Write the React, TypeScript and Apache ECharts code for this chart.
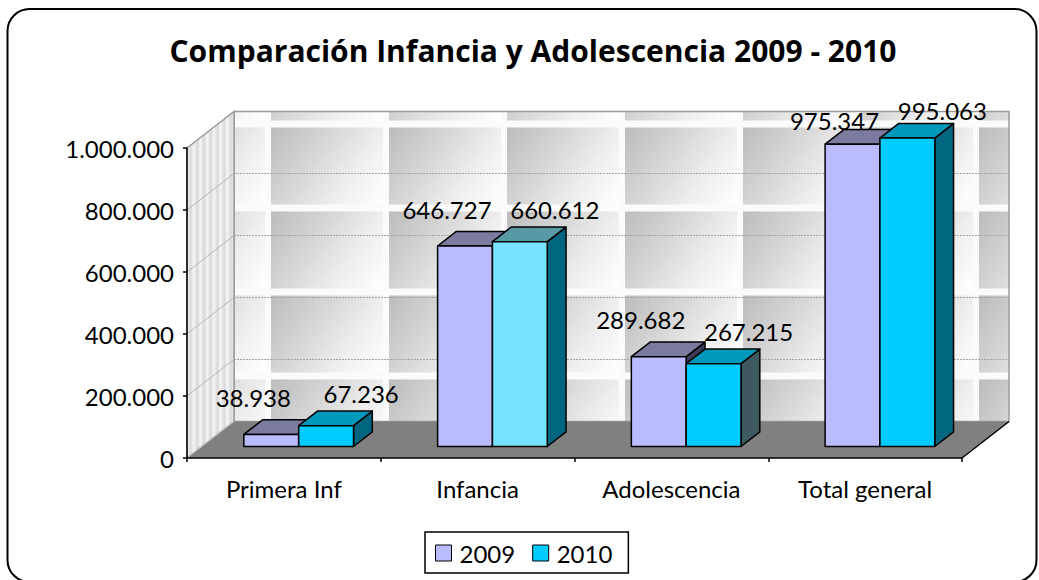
import React, { useEffect, useRef } from "react";
import * as echarts from "echarts";

const categories = ["Primera Inf", "Infancia", "Adolescencia", "Total general"];
const years = ["2009", "2010"];
const values2009 = [38938, 646727, 289682, 975347];
const values2010 = [67236, 660612, 267215, 995063];
const yMin = 0;
const yMax = 1000000;
const yStep = 200000;

const FONT = "Lato";
const TITLE_FONT = "Open Sans";
const DX = 47; // depth of the 3D box in px
const DY = 36.5;
const BAR_FRONT = 0.315;
const BAR_DEPTH = 0.4;
const BAR_W = 0.283;

const fmt = (v: number) => String(v).replace(/\B(?=(\d{3})+(?!\d))/g, ".");

function barColors(series: number, idx: number) {
  if (series === 0) {
    return { front: "#BBBBFF", top: "#7B7B9F", side: "#3B3B58" };
  }
  if (idx === 1) return { front: "#77E4FF", top: "#5899A6", side: "#00657F" };
  if (idx === 2) return { front: "#00CCFF", top: "#0099BB", side: "#3E5A60" };
  return { front: "#00CCFF", top: "#0099BB", side: "#00657F" };
}

function makeBarRender(series: number) {
  return (params: any, api: any) => {
    const cat = api.value(0);
    const v = api.value(1);
    const base = api.coord([cat, 0]);
    const topP = api.coord([cat, v]);
    const band = api.size([1, 0])[0];
    const w = band * BAR_W;
    const ox = DX * BAR_FRONT;
    const oy = -DY * BAR_FRONT;
    const dx = DX * BAR_DEPTH;
    const dy = -DY * BAR_DEPTH;
    const xl = base[0] + ox + (series === 0 ? -w : 0);
    const xr = xl + w;
    const yb = base[1] + oy;
    const yt = topP[1] + oy;
    const c = barColors(series, params.dataIndex);
    const stroke = { stroke: "#000", lineWidth: 1.5, lineJoin: "round" };
    return {
      type: "group",
      children: [
        {
          type: "polygon",
          shape: { points: [[xr, yt], [xr + dx, yt + dy], [xr + dx, yb + dy], [xr, yb]] },
          style: { fill: c.side, ...stroke },
        },
        {
          type: "polygon",
          shape: { points: [[xl, yt], [xl + dx, yt + dy], [xr + dx, yt + dy], [xr, yt]] },
          style: { fill: c.top, ...stroke },
        },
        {
          type: "polygon",
          shape: { points: [[xl, yt], [xr, yt], [xr, yb], [xl, yb]] },
          style: { fill: c.front, ...stroke },
        },
      ],
    };
  };
}

function makeLabelRender(series: number) {
  return (params: any, api: any) => {
    const cat = api.value(0);
    const v = api.value(1);
    const base = api.coord([cat, 0]);
    const topP = api.coord([cat, v]);
    const band = api.size([1, 0])[0];
    const w = band * BAR_W;
    const ox = DX * BAR_FRONT;
    const oy = -DY * BAR_FRONT;
    const cx = base[0] + ox + (series === 0 ? -w / 2 : w / 2);
    const yt = topP[1] + oy;
    let x: number, y: number;
    if (series === 0) {
      x = cx - 18;
      y = Math.max(yt - 37, 120);
    } else {
      x = cx + 35;
      y = Math.max(yt - 32, 110);
    }
    return {
      type: "text",
      x,
      y,
      style: {
        text: fmt(v),
        fontFamily: FONT,
        fontSize: 24,
        fill: "#000",
        align: "center",
        verticalAlign: "middle",
      },
    };
  };
}

function wallsRender(params: any, api: any) {
  const cs = params.coordSys;
  const x0 = cs.x;
  const y0 = cs.y;
  const w = cs.width;
  const h = cs.height;
  const bx0 = x0 + DX;
  const by0 = y0 - DY;
  const bx1 = x0 + w + DX;
  const by1 = y0 + h - DY;
  const children: any[] = [];
  children.push({
    type: "rect",
    shape: { x: bx0, y: by0, width: bx1 - bx0, height: by1 - by0 },
    style: { fill: "#fbfbfb" },
  });
  const TW = 118, TH = 84, GW = 112, GH = 77;
  for (let tx = bx0 + 37 - TW; tx < bx1; tx += TW) {
    for (let ty = by0 + 16 - TH; ty < by1; ty += TH) {
      const cx0 = Math.max(tx, bx0);
      const cx1 = Math.min(tx + GW, bx1);
      const cy0 = Math.max(ty, by0);
      const cy1 = Math.min(ty + GH, by1);
      if (cx1 <= cx0 || cy1 <= cy0) continue;
      children.push({
        type: "rect",
        shape: { x: cx0, y: cy0, width: cx1 - cx0, height: cy1 - cy0 },
        style: {
          fill: new echarts.graphic.LinearGradient(
            tx,
            ty,
            tx + GW,
            ty + GH,
            [
              { offset: 0, color: "#bcbcbc" },
              { offset: 0.4, color: "#d8d8d8" },
              { offset: 0.7, color: "#efefef" },
              { offset: 1, color: "#ffffff" },
            ],
            true
          ),
        },
      });
    }
  }
  for (let v = yMin + yStep; v < yMax; v += yStep) {
    const yy = api.coord([0, v])[1] - DY;
    children.push({
      type: "line",
      shape: { x1: bx0, y1: yy, x2: bx1, y2: yy },
      style: { stroke: "#a6a6a6", lineWidth: 1, lineDash: [2, 1] },
    });
  }
  children.push({
    type: "rect",
    shape: { x: bx0, y: by0, width: bx1 - bx0, height: by1 - by0 },
    style: { fill: "none", stroke: "#9a9a9a", lineWidth: 1.5 },
  });
  const stops: any[] = [];
  const n = 7;
  for (let i = 0; i < n; i++) {
    stops.push({ offset: i / n, color: "#f6f6f6" });
    stops.push({ offset: (i + 0.55) / n, color: "#d8d8d8" });
  }
  stops.push({ offset: 1, color: "#f0f0f0" });
  children.push({
    type: "polygon",
    shape: { points: [[x0, y0], [bx0, by0], [bx0, by1], [x0, y0 + h]] },
    style: {
      fill: new echarts.graphic.LinearGradient(x0, 0, bx0, 0, stops, true),
      stroke: "#9a9a9a",
      lineWidth: 1.5,
    },
  });
  for (let v = yMin + yStep; v < yMax; v += yStep) {
    const yy = api.coord([0, v])[1];
    children.push({
      type: "line",
      shape: { x1: x0, y1: yy, x2: bx0, y2: yy - DY },
      style: { stroke: "#b4b4b4", lineWidth: 1 },
    });
  }
  children.push({
    type: "polygon",
    shape: { points: [[x0, y0 + h], [x0 + w, y0 + h], [bx1, by1], [bx0, by1]] },
    style: { fill: "#808080" },
  });
  children.push({
    type: "line",
    shape: { x1: x0, y1: y0 + h, x2: bx0, y2: by1 },
    style: { stroke: "#c8c8c8", lineWidth: 1 },
  });
  children.push({
    type: "line",
    shape: { x1: x0 + w, y1: y0 + h, x2: bx1, y2: by1 },
    style: { stroke: "#000", lineWidth: 1.5 },
  });
  return { type: "group", children };
}

export default function App() {
  const ref = useRef<HTMLDivElement>(null);
  useEffect(() => {
    if (!ref.current) return;
    const chart = echarts.init(ref.current, null, { renderer: "svg" });
    const d2009 = values2009.map((v, i) => [i, v]);
    const d2010 = values2010.map((v, i) => [i, v]);
    chart.setOption({
      animation: false,
      backgroundColor: "#ffffff",
      title: {
        text: "Comparación Infancia y Adolescencia 2009 - 2010",
        left: 528,
        top: 30,
        textAlign: "center",
        textStyle: { fontFamily: TITLE_FONT, fontWeight: "bold", fontSize: 30, color: "#000" },
      },
      graphic: [
        {
          type: "rect",
          shape: { x: 7.5, y: 9, width: 1029, height: 573, r: 22 },
          style: { fill: "none", stroke: "#000", lineWidth: 2 },
          z: 100,
        },
      ],
      legend: {
        left: 425,
        top: 532,
        padding: [9, 16, 8, 10],
        itemGap: 17,
        itemWidth: 16,
        itemHeight: 16,
        borderColor: "#000",
        borderWidth: 1.5,
        textStyle: { fontFamily: FONT, fontSize: 24, color: "#000", padding: [0, 0, 0, 3] },
        data: [
          { name: years[0], icon: "rect", itemStyle: { color: "#BBBBFF", borderColor: "#000", borderWidth: 1 } },
          { name: years[1], icon: "rect", itemStyle: { color: "#00CCFF", borderColor: "#000", borderWidth: 1 } },
        ],
      },
      grid: { left: 187, right: 77, top: 148, bottom: 122, containLabel: false },
      xAxis: {
        type: "category",
        data: categories,
        z: 5,
        axisLine: { show: true, lineStyle: { color: "#000", width: 1.5 } },
        axisTick: { show: true, length: 4, lineStyle: { color: "#000", width: 1.5 } },
        axisLabel: { margin: 18, fontFamily: FONT, fontSize: 24, color: "#000" },
        splitLine: { show: false },
      },
      yAxis: {
        type: "value",
        min: yMin,
        max: yMax,
        interval: yStep,
        z: 5,
        axisLine: { show: true, lineStyle: { color: "#000", width: 1.5 } },
        axisTick: { show: true, length: 4, lineStyle: { color: "#000", width: 1.5 } },
        axisLabel: { margin: 13, fontFamily: FONT, fontSize: 24, color: "#000", formatter: (v: number) => fmt(v) },
        splitLine: { show: false },
      },
      series: [
        {
          type: "custom",
          name: "walls",
          z: 0,
          silent: true,
          renderItem: wallsRender,
          encode: { x: 0, y: 1 },
          data: [[0, 0]],
        },
        {
          type: "custom",
          name: years[0],
          z: 2,
          renderItem: makeBarRender(0),
          encode: { x: 0, y: 1 },
          itemStyle: { color: "#BBBBFF" },
          data: d2009,
        },
        {
          type: "custom",
          name: years[1],
          z: 3,
          renderItem: makeBarRender(1),
          encode: { x: 0, y: 1 },
          itemStyle: { color: "#00CCFF" },
          data: d2010,
        },
        {
          type: "custom",
          name: "labels2009",
          z: 10,
          renderItem: makeLabelRender(0),
          encode: { x: 0, y: 1 },
          data: d2009,
        },
        {
          type: "custom",
          name: "labels2010",
          z: 10,
          renderItem: makeLabelRender(1),
          encode: { x: 0, y: 1 },
          data: d2010,
        },
      ],
    });
    return () => chart.dispose();
  }, []);
  return (
    <div
      ref={ref}
      style={{ position: "absolute", left: 0, top: 0, width: 1039, height: 580, background: "#fff" }}
    />
  );
}
